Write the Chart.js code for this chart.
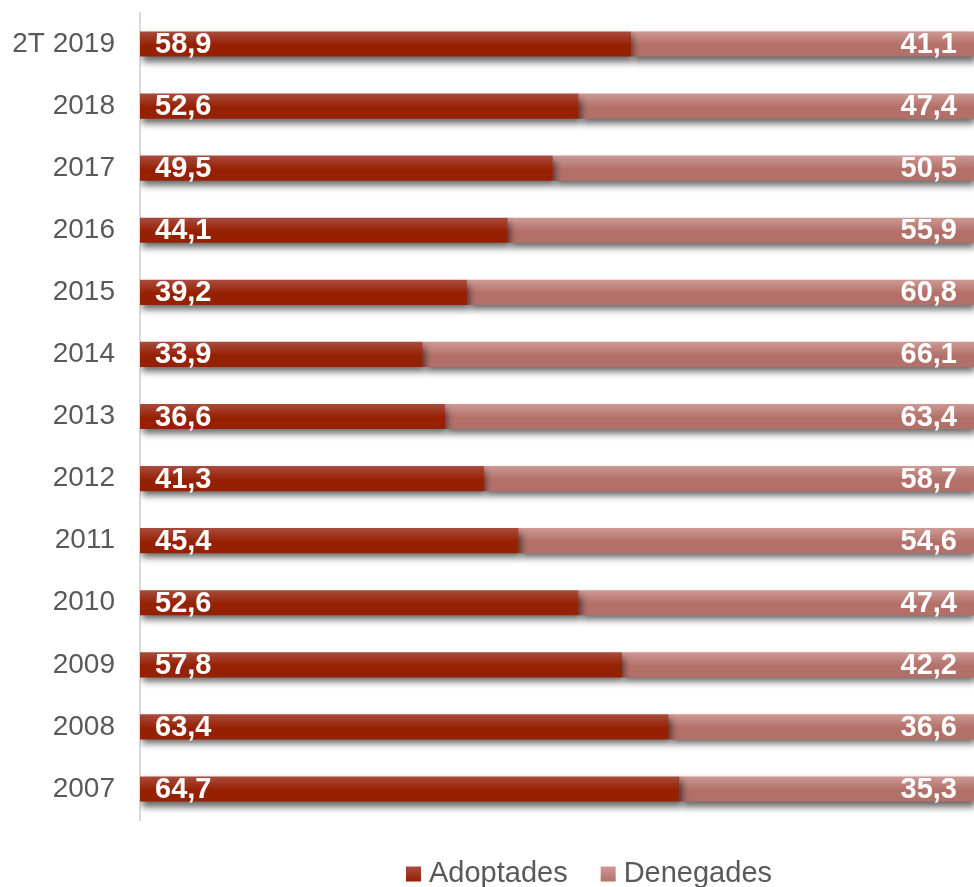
<!DOCTYPE html>
<html>
<head>
<meta charset="utf-8">
<script src="https://cdn.jsdelivr.net/npm/chart.js@4.4.1/dist/chart.umd.min.js"></script>
<style>
html,body{margin:0;padding:0;background:#fff;}
#wrap{width:974px;height:887px;position:relative;}
</style>
</head>
<body>
<div id="wrap"><canvas id="c"></canvas></div>
<script>
const categories = ['2T 2019','2018','2017','2016','2015','2014','2013','2012','2011','2010','2009','2008','2007'];
const adoptades = [58.9,52.6,49.5,44.1,39.2,33.9,36.6,41.3,45.4,52.6,57.8,63.4,64.7];
const denegades = [41.1,47.4,50.5,55.9,60.8,66.1,63.4,58.7,54.6,47.4,42.2,36.6,35.3];
const seriesNames = ['Adoptades','Denegades'];

const FONT = '"Liberation Sans", Arial, sans-serif';
const palette = [
  {top:'rgb(168,76,62)', bottom:'rgb(150,32,2)', solid:'rgb(155,40,15)'},
  {top:'rgb(206,153,148)', bottom:'rgb(178,112,105)', solid:'rgb(192,132,126)'}
];
const BAR_PCT = 0.405;

function barFill(idx){
  return function(ctx){
    const p = palette[idx];
    if (ctx.type !== 'data') return p.solid;
    const chart = ctx.chart;
    const y = chart.scales.y;
    if (!y || !chart.chartArea) return p.solid;
    const c = y.getPixelForValue(ctx.dataIndex);
    const band = (y.bottom - y.top) / categories.length;
    const h = band * BAR_PCT / 2;
    const g = chart.ctx.createLinearGradient(0, c - h, 0, c + h);
    g.addColorStop(0, p.top);
    g.addColorStop(0.55, p.bottom);
    g.addColorStop(1, p.bottom);
    return g;
  };
}

const shadowPlugin = {
  id: 'barShadow',
  beforeDatasetsDraw(chart){
    const ctx = chart.ctx;
    ctx.save();
    ctx.shadowColor = 'rgba(0,0,0,0.6)';
    ctx.shadowBlur = 7;
    ctx.shadowOffsetX = 2;
    ctx.shadowOffsetY = 5;
  },
  afterDatasetsDraw(chart){
    chart.ctx.restore();
  }
};

const labelPlugin = {
  id: 'barLabels',
  afterDatasetsDraw(chart){
    const ctx = chart.ctx;
    ctx.save();
    ctx.fillStyle = '#ffffff';
    ctx.font = 'bold 29px ' + FONT;
    ctx.textBaseline = 'middle';
    chart.data.datasets.forEach((ds, di) => {
      const meta = chart.getDatasetMeta(di);
      meta.data.forEach((el, i) => {
        const txt = ds.data[i].toFixed(1).replace('.', ',');
        const left = Math.min(el.x, el.base), right = Math.max(el.x, el.base);
        if (di === 0) {
          ctx.textAlign = 'left';
          ctx.fillText(txt, left + 15, el.y + 1);
        } else {
          ctx.textAlign = 'right';
          ctx.fillText(txt, right - 17, el.y + 1);
        }
      });
    });
    ctx.restore();
  }
};

const legendPlugin = {
  id: 'customLegend',
  afterDraw(chart){
    const ctx = chart.ctx;
    ctx.save();
    ctx.font = '29px ' + FONT;
    ctx.textBaseline = 'middle';
    ctx.textAlign = 'left';
    const box = 15, gapText = 8, gapItem = 33;
    const widths = chart.data.datasets.map(ds => box + gapText + ctx.measureText(ds.label).width);
    const total = widths.reduce((a,b)=>a+b,0) + gapItem*(widths.length-1);
    const center = chart.chartArea.left + (chart.chartArea.right - chart.chartArea.left)/2 + 32;
    let x = center - total/2;
    const cy = 874;
    chart.data.datasets.forEach((ds, di) => {
      const p = palette[di];
      const g = ctx.createLinearGradient(0, cy - box/2, 0, cy + box/2);
      g.addColorStop(0, p.top); g.addColorStop(1, p.bottom);
      ctx.fillStyle = g;
      ctx.fillRect(x, cy - box/2, box, box);
      ctx.fillStyle = '#595959';
      ctx.fillText(ds.label, x + box + gapText, cy);
      x += widths[di] + gapItem;
    });
    ctx.restore();
  }
};

new Chart(document.getElementById('c'), {
  type: 'bar',
  data: {
    labels: categories,
    datasets: [
      {label: seriesNames[0], data: adoptades, backgroundColor: barFill(0), borderWidth: 0},
      {label: seriesNames[1], data: denegades, backgroundColor: barFill(1), borderWidth: 0}
    ]
  },
  options: {
    indexAxis: 'y',
    responsive: true,
    maintainAspectRatio: false,
    animation: false,
    events: [],
    layout: {padding: {top: 13, right: 0, bottom: 67, left: 0}},
    datasets: {bar: {categoryPercentage: 1, barPercentage: BAR_PCT}},
    scales: {
      x: {stacked: true, display: false, min: 0, max: 100},
      y: {
        stacked: true,
        afterFit(scale){ scale.width = 140; scale.paddingTop = 0; scale.paddingBottom = 0; },
        grid: {display: false, drawTicks: false},
        border: {display: true, color: '#d9d9d9', width: 2},
        ticks: {color: '#595959', font: {family: FONT, size: 28}, padding: 25}
      }
    },
    plugins: {
      legend: {display: false},
      tooltip: {enabled: false}
    }
  },
  plugins: [shadowPlugin, labelPlugin, legendPlugin]
});
</script>
</body>
</html>
